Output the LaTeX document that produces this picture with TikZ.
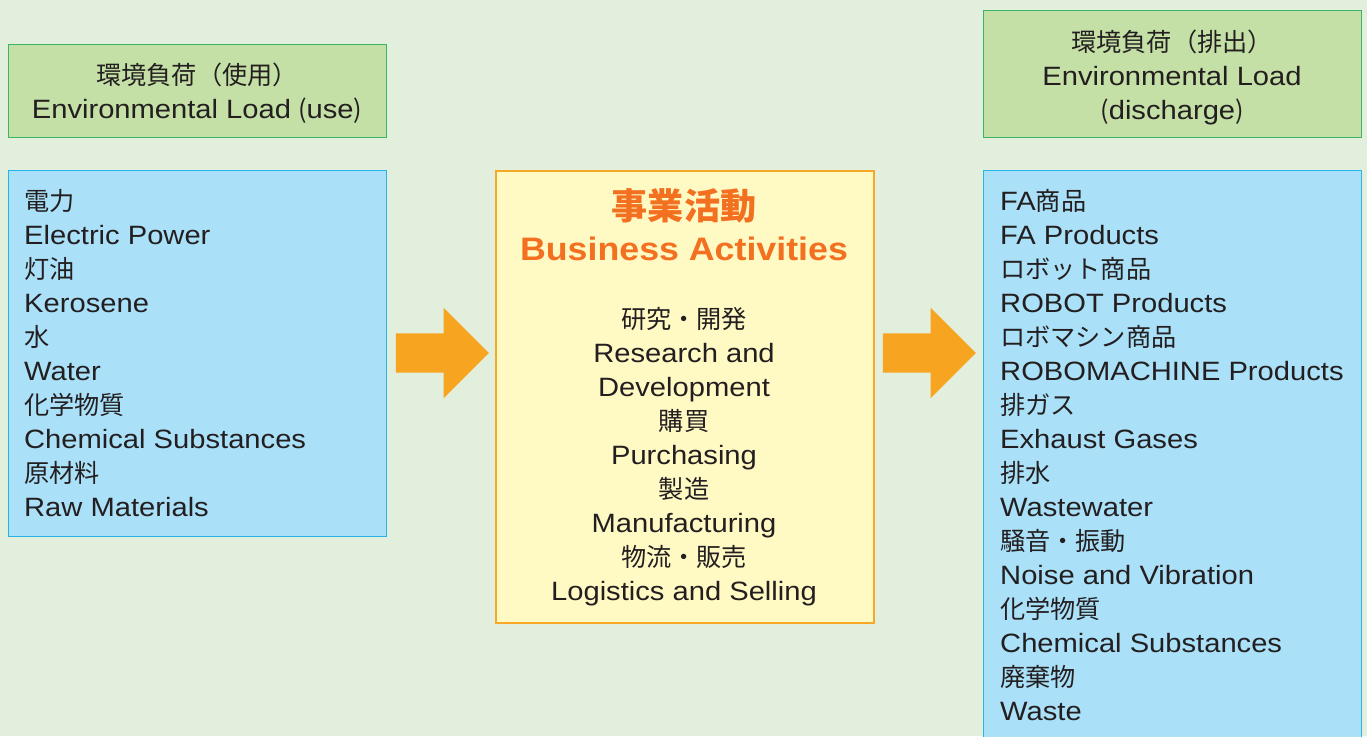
\documentclass[tikz,border=0pt]{standalone}
\usepackage{fontspec}
\setmainfont{Liberation Sans}[FakeStretch=1.1]
\newfontfamily\jp{Noto Sans CJK JP}[Scale=0.95]
\usetikzlibrary{shapes.arrows, positioning}
\definecolor{bgcol}{RGB}{227,239,221}
\definecolor{inkcol}{RGB}{35,31,32}
\definecolor{greenfill}{RGB}{197,224,166}
\definecolor{greenline}{RGB}{60,180,100}
\definecolor{bluefill}{RGB}{170,224,248}
\definecolor{blueline}{RGB}{40,180,230}
\definecolor{yellowfill}{RGB}{255,249,196}
\definecolor{yellowline}{RGB}{247,168,40}
\definecolor{arrowcol}{RGB}{247,165,32}
\definecolor{titlecol}{RGB}{243,112,33}
\tikzset{
    every node/.style={inner sep=0pt, text=inkcol, font=\fontsize{26.5}{34}\selectfont}, % plain text lines
    loadbox/.style={draw=greenline, fill=greenfill, line width=1.2pt, anchor=north west, minimum width=378pt}, % the two headers
    listbox/.style={draw=blueline, fill=bluefill, line width=1.2pt, anchor=north west, minimum width=378pt}, % inputs and outputs
    actbox/.style={draw=yellowline, fill=yellowfill, line width=1.5pt, anchor=north west, minimum width=378pt}, % business activities
    bigarrow/.style={single arrow, fill=arrowcol, inner sep=19.5pt, minimum height=93pt, single arrow head extend=25.5pt, single arrow tip angle=90}, % fat arrows
}
\begin{document}
\begin{tikzpicture}[x=1pt, y=-1pt]
\useasboundingbox (0,0) rectangle (1367,736);
\fill[bgcol] (0,0) rectangle (1367,736);

% boxes
\node[loadbox, minimum height=93pt] (usehead) at (8,44) {};
\node[loadbox, minimum height=127pt] (outhead) at (983,10) {};
\node[listbox, minimum height=366pt] (uselist) at (8,170) {};
\node[listbox, minimum height=580pt] (outlist) at (983,170) {};
\node[actbox, minimum height=452pt] (act) at (495,170) {};

% arrows
\node[bigarrow] (arr1) at (432.5,353) {};
\node[bigarrow] (arr2) at (919.5,353) {};

% headers
\node[anchor=base] (uh1) at (197,84) {\jp 環境負荷（使用）};
\node[anchor=base] (uh2) at (197,118) {Environmental Load\hspace{7pt}{\jp (}use{\jp )}};
\node[anchor=base] (oh1) at (1172,51) {\jp 環境負荷（排出）};
\node[anchor=base] (oh2) at (1172,85) {Environmental Load};
\node[anchor=base] (oh3) at (1172,119) {{\jp (}discharge{\jp )}};

% inputs
\foreach \t [count=\i] in {{\jp 電力}, Electric Power, {\jp 灯油}, Kerosene, {\jp 水}, Water,
    {\jp 化学物質}, Chemical Substances, {\jp 原材料}, Raw Materials}
    \node[anchor=base west] (in\i) at (24,176+34*\i) {\t};

% activities
\node[anchor=base, text=titlecol, font=\fontsize{38}{40}\selectfont\jp\bfseries] (title1) at (684,219) {事業活動};
\node[anchor=base, text=titlecol, font=\fontsize{32.5}{40}\selectfont\bfseries] (title2) at (684,260) {Business Activities};
\foreach \t [count=\i] in {{\jp 研究・開発}, Research and, Development, {\jp 購買}, Purchasing,
    {\jp 製造}, Manufacturing, {\jp 物流・販売}, Logistics and Selling}
    \node[anchor=base] (act\i) at (684,294+34*\i) {\t};

% outputs
\foreach \t [count=\i] in {FA{\jp 商品}, FA Products, {\jp ロボット商品}, ROBOT Products,
    {\jp ロボマシン商品}, ROBOMACHINE Products, {\jp 排ガス}, Exhaust Gases, {\jp 排水}, Wastewater,
    {\jp 騒音・振動}, Noise and Vibration, {\jp 化学物質}, Chemical Substances, {\jp 廃棄物}, Waste}
    \node[anchor=base west] (out\i) at (1000,176+34*\i) {\t};
\end{tikzpicture}
\end{document}
